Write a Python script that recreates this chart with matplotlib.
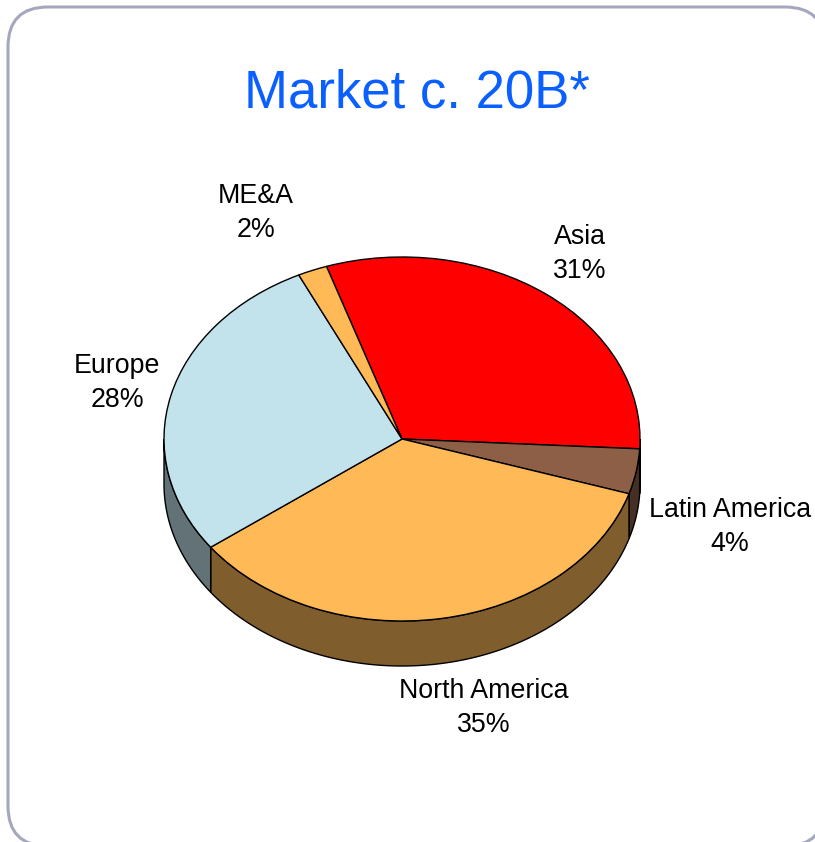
import numpy as np
import matplotlib
matplotlib.use("Agg")
import matplotlib.pyplot as plt
from matplotlib.colors import to_rgb
from matplotlib.patches import FancyBboxPatch

# Market share by region, in percent
regions = ["Asia", "Latin America", "North America", "Europe", "ME&A"]
shares = [31, 4, 35, 28, 2]
colors = ["#ff0000", "#8c5f46", "#ffb957", "#c3e3ec", "#ffb957"]
title = "Market c. 20B*"

# Label centres in pixels, same order as regions
label_pos = [(580, 254), (730, 527), (484, 708), (117, 383), (256, 213)]

plt.rcParams["font.family"] = ["Liberation Sans", "DejaVu Sans"]

W, H = 815, 842
fig = plt.figure(figsize=(W / 100, H / 100), dpi=100, facecolor="white")

# Pixel-space layer for the rounded frame and the text
bg = fig.add_axes([0, 0, 1, 1])
bg.set_xlim(0, W)
bg.set_ylim(H, 0)
bg.axis("off")
frame = FancyBboxPatch((8, 7), 817, 839, boxstyle="round,pad=0,rounding_size=40",
                       facecolor="white", edgecolor="#a5a8bc", linewidth=2.2)
bg.add_patch(frame)

# Pie layer: one unit is the ellipse radius, so x and y scale differently
cx, cy, rx, ry = 402, 439, 238, 182
depth = 45 / ry
ax = fig.add_axes([0, 0, 1, 1])
ax.patch.set_alpha(0)
wedges, _ = ax.pie(shares, colors=colors, startangle=108.5, counterclock=False,
                   wedgeprops={"edgecolor": "black", "linewidth": 1.0, "zorder": 3})
ax.set_aspect("auto")
ax.set_xlim(-cx / rx, (W - cx) / rx)
ax.set_ylim(-(H - cy) / ry, cy / ry)
ax.axis("off")

# Side wall: the part of each slice's rim on the lower half of the ellipse
for wedge, color in zip(wedges, colors):
    theta = np.radians(np.linspace(wedge.theta1, wedge.theta2, 400))
    theta = theta[np.sin(theta) <= 0]
    if len(theta) == 0:
        continue
    x = np.cos(theta)
    y = np.sin(theta)
    dark = tuple(c * 0.5 for c in to_rgb(color))
    ax.fill(np.r_[x, x[::-1]], np.r_[y, y[::-1] - depth], facecolor=dark,
            edgecolor="black", linewidth=1.0, zorder=2)

bg.text(417, 94, title, color="#0a5fff", fontsize=38, ha="center", va="center")
for name, share, (px, py) in zip(regions, shares, label_pos):
    bg.text(px, py, f"{name}\n{share}%", color="black", fontsize=19.3, ha="center",
            va="center", linespacing=1.37)

fig.savefig("out.png", dpi=100)
